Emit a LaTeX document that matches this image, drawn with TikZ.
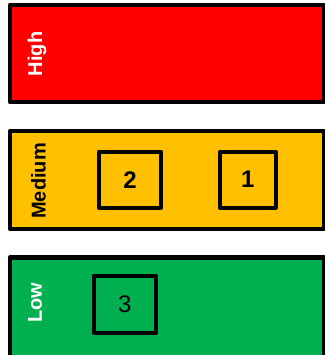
\documentclass[tikz,border=0pt]{standalone}
\usepackage{fontspec}
\setmainfont{Liberation Sans}
\usepackage{xcolor}
\definecolor{riskred}{HTML}{FF0000}
\definecolor{riskamber}{HTML}{FFC000}
\definecolor{riskgreen}{HTML}{00B050}
\tikzset{
	band/.style={draw=black, line width=4.5pt, inner sep=0pt, minimum width=314pt},
	bandlabel/.style={rotate=90, font=\bfseries\fontsize{20}{24}\selectfont, inner sep=0pt},
	itembox/.style={draw=black, line width=4pt, inner sep=0pt, minimum height=56pt, font=\fontsize{24}{28}\selectfont}
}
\begin{document}
\begin{tikzpicture}[x=1pt, y=-1pt, line join=round]
		
		\useasboundingbox (0,0) rectangle (324,355);
		
		% The three priority bands
		\node[band, fill=riskred, minimum height=97pt] (high) at (167,53.5) {};
		\node[band, fill=riskamber, minimum height=98pt] (medium) at (167,180) {};
		\node[band, fill=riskgreen, minimum height=99.5pt] (low) at (167,307.25) {};
		
		% Band labels
		\node[bandlabel, text=white] (highlbl) at (37,54) {High};
		\node[bandlabel, text=black] (mediumlbl) at (38.5,181) {Medium};
		\node[bandlabel, text=white] (lowlbl) at (35,303) {Low};
		
		% Items placed in the bands
		\node[itembox, minimum width=62pt, font=\bfseries\fontsize{24}{28}\selectfont] (item2) at (130,179.7) {2};
		\node[itembox, minimum width=56pt, font=\bfseries\fontsize{24}{28}\selectfont] (item1) at (247.8,179.7) {1};
		\node[itembox, minimum width=62pt, minimum height=57pt] (item3) at (124.7,304) {3};
		
	\end{tikzpicture}
\end{document}
